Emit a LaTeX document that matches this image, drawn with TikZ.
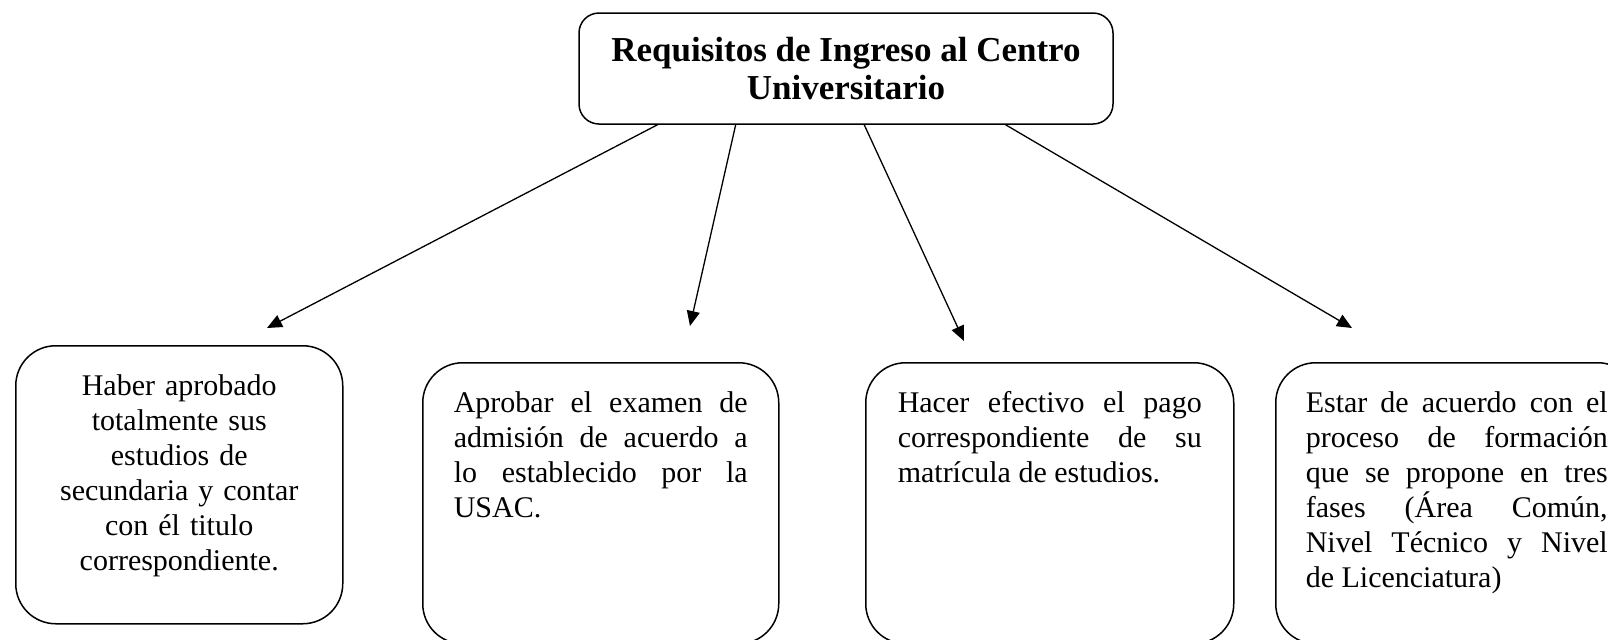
\documentclass[tikz,border=0pt]{standalone}
\usepackage{fontspec}
\setmainfont{Liberation Serif}
\usetikzlibrary{arrows.meta, positioning, calc}
\hyphenpenalty=10000
\exhyphenpenalty=10000
\tolerance=10000
\hbadness=10000
\tikzset{
  titlebox/.style={rectangle, draw=black, rounded corners=10pt, line width=0.75pt,
    minimum width=267pt, minimum height=55.5pt, align=center,
    font=\fontsize{17.5}{19}\selectfont\bfseries},
  reqbox/.style={rectangle, draw=black, rounded corners=20pt, line width=0.75pt,
    anchor=north west, inner ysep=13pt, text height=12pt, text depth=101pt,
    font=\fontsize{15}{17.5}\selectfont},
  arrow/.style={-{Triangle[length=7.5pt, width=6.5pt]}, line width=0.65pt, color=black}
}

\begin{document}
\begin{tikzpicture}[x=0.5pt, y=-0.5pt]
  \useasboundingbox (0,0) rectangle (1608,639);

  % ── Title ────────────────────────────────────────────────────────────────
  \node[titlebox] (req) at (846,68.5) {Requisitos de Ingreso al Centro\\Universitario};

  % ── Requirements (left to right) ─────────────────────────────────────────
  \node[reqbox, text width=125pt, minimum width=163.5pt, align=center] (titulo) at (15,345)
    {Haber aprobado\\totalmente sus\\estudios de\\secundaria y contar\\con él titulo\\correspondiente.};
  \node[reqbox, text width=147pt, minimum width=178pt, align=justify, text depth=102.5pt] (examen) at (422,362)
    {Aprobar el examen de\linebreak admisión de acuerdo a\linebreak lo establecido por la\linebreak USAC.};
  \node[reqbox, text width=152pt, minimum width=184pt, align=justify, text depth=102.5pt] (pago) at (865,362)
    {Hacer efectivo el pago\linebreak correspondiente de su\linebreak matrícula de estudios.};
  \node[reqbox, text width=151pt, minimum width=181pt, align=justify, text depth=102.5pt] (fases) at (1275,362)
    {Estar de acuerdo con el\linebreak proceso de formación\linebreak que se propone en tres\linebreak fases (Área Común,\linebreak Nivel Técnico y Nivel\linebreak de Licenciatura)};

  % ── Arrow ends (they stop short of the boxes) ────────────────────────────
  \coordinate (tip1) at (267,328);
  \coordinate (tip2) at (690,326);
  \coordinate (tip3) at (964,341);
  \coordinate (tip4) at (1352,328);

  % ── Connectors ───────────────────────────────────────────────────────────
  \draw[arrow] ($(req.south west)!0.148!(req.south east)$) -- (tip1);
  \draw[arrow] ($(req.south west)!0.294!(req.south east)$) -- (tip2);
  \draw[arrow] ($(req.south west)!0.534!(req.south east)$) -- (tip3);
  \draw[arrow] ($(req.south west)!0.798!(req.south east)$) -- (tip4);
\end{tikzpicture}
\end{document}
